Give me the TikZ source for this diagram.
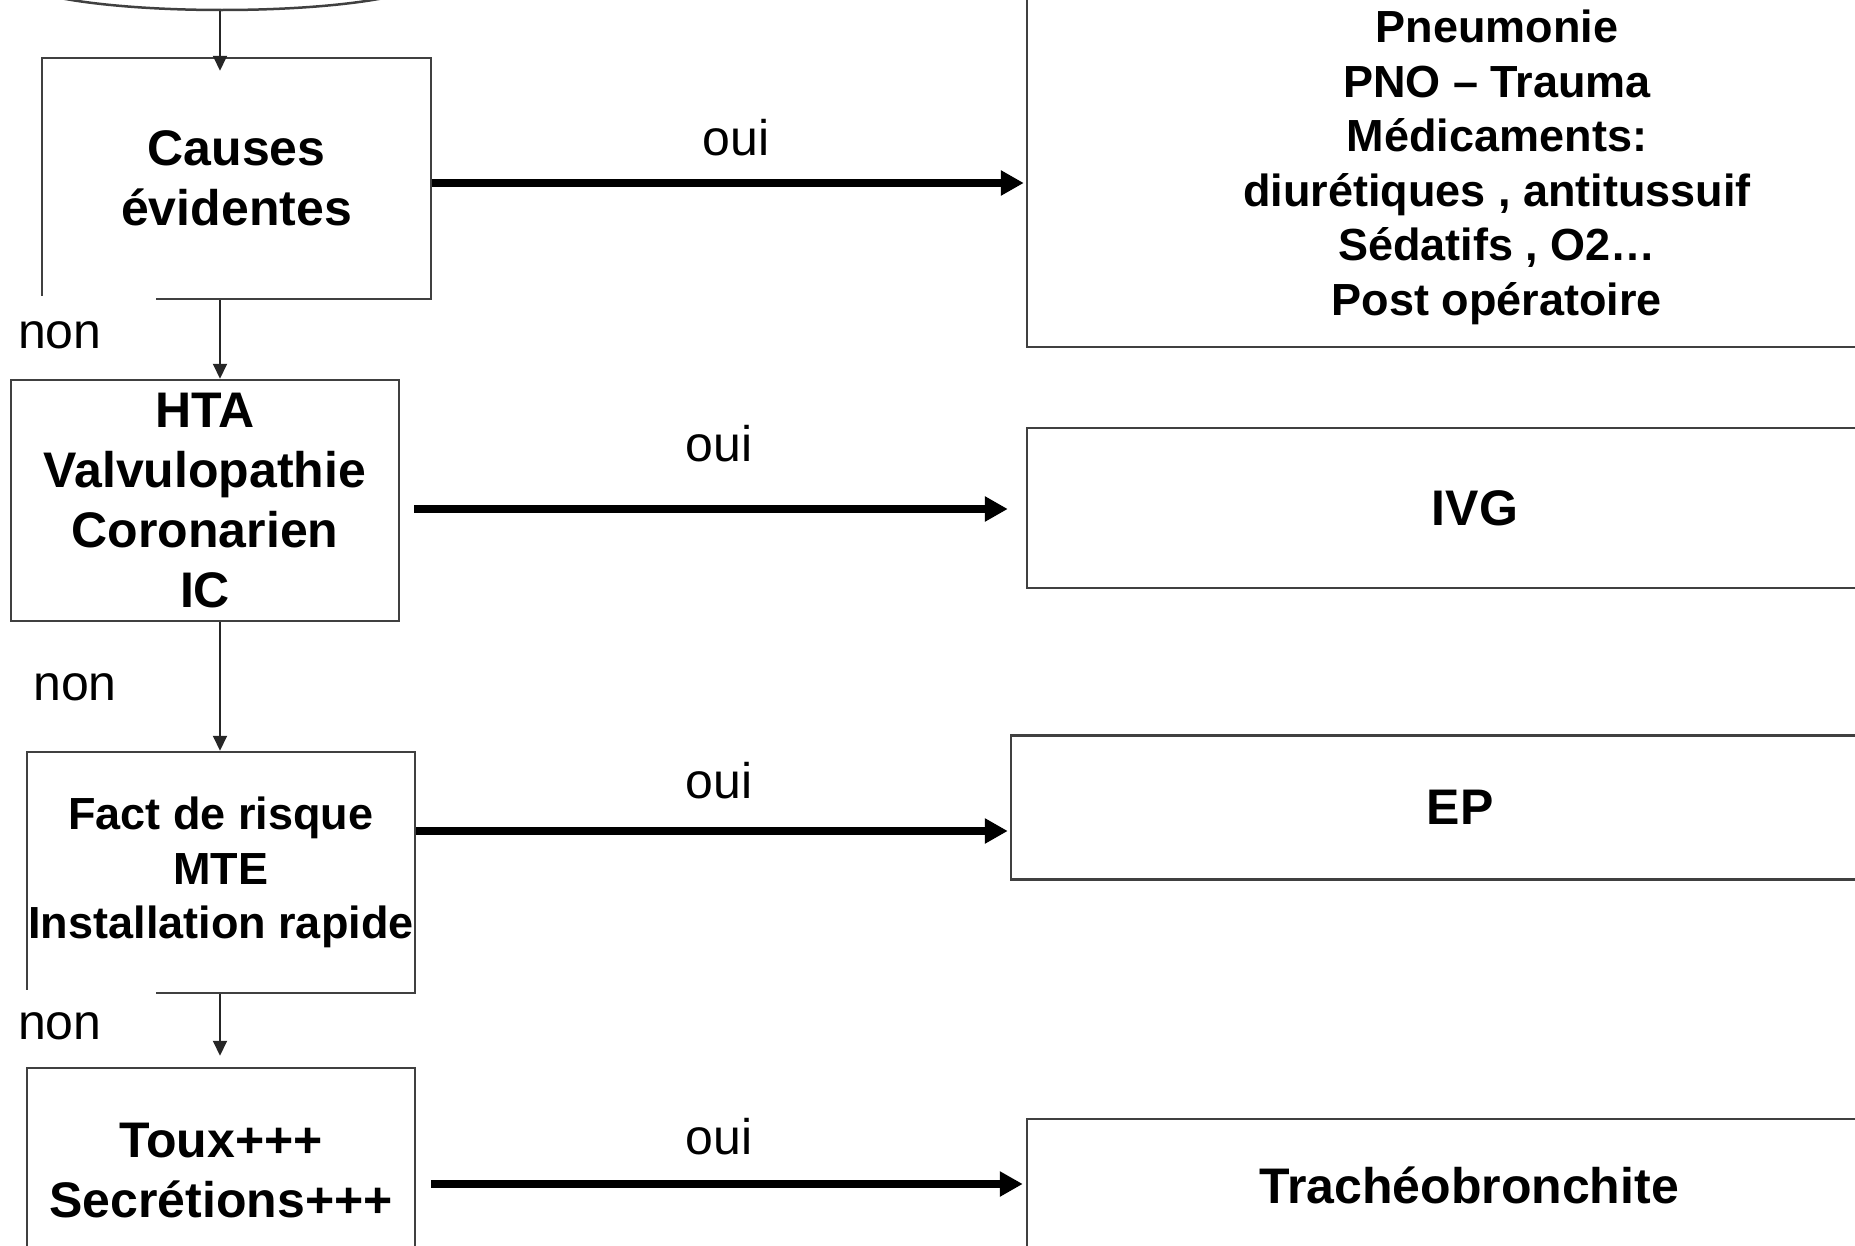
\documentclass[tikz,border=0pt]{standalone}
\usepackage{fontspec}
\setmainfont{Liberation Sans}
\usepackage{tikz}
\usetikzlibrary{arrows.meta,positioning,shapes.geometric}
\definecolor{Frame}{HTML}{404040}
\newcommand{\bigtxt}{\fontsize{50}{60}\selectfont}
\newcommand{\midtxt}{\fontsize{45}{54.5}\selectfont}

\begin{document}
\begin{tikzpicture}[x=1pt,y=-1pt,
q/.style={draw=Frame,line width=2.5pt,align=center,inner sep=0pt,font=\bfseries\bigtxt},
down/.style={-{Triangle[length=15pt,width=14pt]},line width=2pt,draw=black!85},
yes/.style={-{Triangle[length=23pt,width=24pt]},line width=8pt},
lab/.style={inner sep=0pt,font=\bigtxt}]
\useasboundingbox (0,0) rectangle (1855,1245);
\clip (0,0) rectangle (1855,1245);
% questions (left column)
\node[ellipse,draw=Frame,line width=2.5pt,minimum width=420,minimum height=66] (top) at (222,-23) {};
\node[q,minimum width=389,minimum height=241] (b1) at (236.5,178.5) {Causes\\évidentes};
\node[q,minimum width=388,minimum height=241] (b2) at (205,500.5) {HTA\\Valvulopathie\\Coronarien\\IC};
\node[q,minimum width=388,minimum height=241,font=\bfseries\midtxt] (b3) at (221,872.5) {Fact de risque\\MTE\\Installation rapide};
\node[q,minimum width=388,minimum height=206] (b4) at (221,1171) {Toux+++\\Secrétions+++};
% diagnoses (right column)
\node[q,minimum width=940,minimum height=359,font=\bfseries\midtxt] (r1) at (1497,167.5) {Pneumonie\\PNO – Trauma\\Médicaments:\\diurétiques , antitussuif\\Sédatifs , O2…\\Post opératoire};
\node[q,minimum width=896,minimum height=160] (r2) at (1475,508) {IVG};
\node[q,minimum width=898,minimum height=144] (r3) at (1460,807.5) {EP};
\node[q,minimum width=884,minimum height=132] (r4) at (1469,1185) {Trachéobronchite};

\coordinate (axis) at (220,0);
\draw[down,shorten >=-14pt] (top.south -| axis) -- (axis |- b1.north);
\draw[down] (axis |- b1.south) -- (axis |- b2.north);
\draw[down] (axis |- b2.south) -- (axis |- b3.north);
\draw[down,shorten >=11pt] (axis |- b3.south) -- (axis |- b4.north);

\draw[yes,shorten >=2pt] ([yshift=-4.5pt]b1.east) -- ([yshift=-4.5pt]b1.east -| r1.west) node[lab,midway,above=23pt,xshift=7pt]{oui};
\draw[yes,shorten <=14pt,shorten >=18pt] ([yshift=-8.5pt]b2.east) -- ([yshift=-8.5pt]b2.east -| r2.west) node[lab,midway,above=43pt,xshift=6pt]{oui};
\draw[yes,shorten >=2pt] ([yshift=41.5pt]b3.east) -- ([yshift=41.5pt]b3.east -| r3.west) node[lab,midway,above=28pt,xshift=6pt]{oui};
\draw[yes,shorten <=15pt,shorten >=3pt] ([yshift=-13pt]b4.east) -- ([yshift=-13pt]b4.east -| r4.west) node[lab,midway,above=25pt,xshift=-2pt]{oui};

\node[lab,fill=white,anchor=west,text width=138pt,align=left,minimum height=78pt] (n1) at (18,335) {non};
\node[lab,anchor=west] (n2) at (33,687) {non};
\node[lab,fill=white,anchor=west,text width=138pt,align=left,minimum height=72pt] (n3) at (18,1026) {non};
\end{tikzpicture}
\end{document}
